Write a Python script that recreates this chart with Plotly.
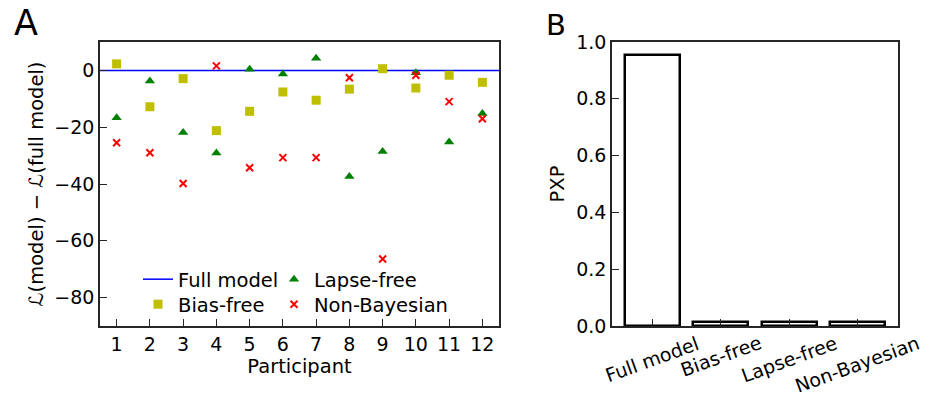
import plotly.graph_objects as go

# ---------------- data ----------------
PARTICIPANTS = list(range(1, 13))
FULL_MODEL = 0.0
BIAS_FREE = [2.3, -12.8, -2.9, -21.2, -14.4, -7.6, -10.5, -6.6, 0.6, -6.2, -1.7, -4.2]
LAPSE_FREE = [-16.7, -3.7, -21.9, -29.1, 0.4, -1.3, 4.3, -37.4, -28.6, -0.8, -25.2, -15.2]
NON_BAYESIAN = [-25.5, -29.0, -39.8, 1.6, -34.3, -30.7, -30.7, -2.6, -66.4, -1.7, -11.0, -17.0]

MODELS = ["Full model", "Bias-free", "Lapse-free", "Non-Bayesian"]
PXP = [0.953, 0.015, 0.015, 0.015]

Y_TICKS_A = [0, -20, -40, -60, -80]
Y_TICKS_B = [0.0, 0.2, 0.4, 0.6, 0.8, 1.0]

# ---------------- style ----------------
W, H = 925, 397
FONT = "DejaVu Sans"
AX = "#262626"
TICK_SIZE = 19
LABEL_SIZE = 19.5
LEG_SIZE = 19.5

fig = go.Figure()

# Panel A
fig.add_trace(go.Scatter(
    x=PARTICIPANTS, y=LAPSE_FREE, mode="markers", name="Lapse-free",
    marker=dict(symbol="triangle-up", size=9, color="#008000"),
    xaxis="x", yaxis="y", legend="legend3"))
fig.add_trace(go.Scatter(
    x=PARTICIPANTS, y=NON_BAYESIAN, mode="markers", name="Non-Bayesian",
    marker=dict(symbol="x-thin", size=7, color="#ff0000",
                line=dict(width=2, color="#ff0000")),
    xaxis="x", yaxis="y", legend="legend4"))
fig.add_trace(go.Scatter(
    x=PARTICIPANTS, y=BIAS_FREE, mode="markers", name="Bias-free",
    marker=dict(symbol="square", size=9, color="#bfbf00"),
    xaxis="x", yaxis="y", legend="legend2"))

fig.add_shape(type="line", xref="x domain", yref="y", x0=0, x1=1,
              y0=FULL_MODEL, y1=FULL_MODEL,
              line=dict(color="#0000ff", width=1.5),
              showlegend=True, name="Full model", legend="legend",
              layer="below")

# Panel B
fig.add_trace(go.Bar(
    x=MODELS, y=PXP, width=0.8, showlegend=False,
    marker=dict(color="white", line=dict(color="black", width=2.5)),
    xaxis="x2", yaxis="y2"))

axis_common = dict(
    showgrid=False, zeroline=False, showline=True, linecolor=AX,
    linewidth=1.5, mirror=True, ticks="inside", ticklen=7, tickwidth=1.3,
    tickcolor=AX, tickfont=dict(family=FONT, size=TICK_SIZE, color="black"),
)

L_A, R_A = 100 / W, 499 / W
L_B, R_B = 612 / W, 898 / W
PH = 284  # plot area height in px


def leg(xpx, ytop):
    return dict(x=xpx / W, y=(326 - ytop) / PH, xanchor="left", yanchor="top",
                bgcolor="rgba(0,0,0,0)", font=dict(family=FONT, size=LEG_SIZE),
                itemwidth=30)


fig.update_layout(
    width=W, height=H,
    margin=dict(l=0, r=0, t=42, b=71),
    paper_bgcolor="white", plot_bgcolor="white",
    font=dict(family=FONT, color="black"),
    xaxis=dict(axis_common, domain=[L_A, R_A], range=[0.5, 12.5],
               tickmode="array", tickvals=PARTICIPANTS,
               title=dict(text="Participant", standoff=0,
                          font=dict(size=LABEL_SIZE))),
    yaxis=dict(axis_common, range=[-90, 10], tickmode="array",
               tickvals=Y_TICKS_A,
               ticktext=[("\u2212" + str(-v)) if v < 0 else str(v) for v in Y_TICKS_A],
               title=dict(text="\u2112(model) \u2212 \u2112(full model)", standoff=6,
                          font=dict(size=LABEL_SIZE))),
    xaxis2=dict(axis_common, domain=[L_B, R_B], range=[-0.59, 3.59],
                showticklabels=False, anchor="y2"),
    yaxis2=dict(axis_common, range=[0, 1], tickmode="array",
                tickvals=Y_TICKS_B, tickformat=".1f", anchor="x2",
                title=dict(text="PXP", standoff=6, font=dict(size=LABEL_SIZE))),
    legend=leg(138, 260),
    legend2=leg(138, 285),
    legend3=leg(274, 260),
    legend4=leg(274, 285),
    bargap=0,
)

# rotated category labels for panel B (centered, like the reference)
for m in MODELS:
    fig.add_annotation(x=m, xref="x2", y=0, yref="paper", text=m,
                       textangle=-20, showarrow=False, xanchor="center",
                       yanchor="top", yshift=-3,
                       font=dict(family=FONT, size=TICK_SIZE, color="black"))

# panel letters
fig.add_annotation(x=12 / W, y=(326 - 23) / PH, xref="paper", yref="paper",
                   text="A", showarrow=False, xanchor="left", yanchor="middle",
                   font=dict(family=FONT, size=35, color="black"))
fig.add_annotation(x=544 / W, y=(326 - 25) / PH, xref="paper", yref="paper",
                   text="B", showarrow=False, xanchor="left", yanchor="middle",
                   font=dict(family=FONT, size=29, color="black"))

fig.write_html("out.html")
